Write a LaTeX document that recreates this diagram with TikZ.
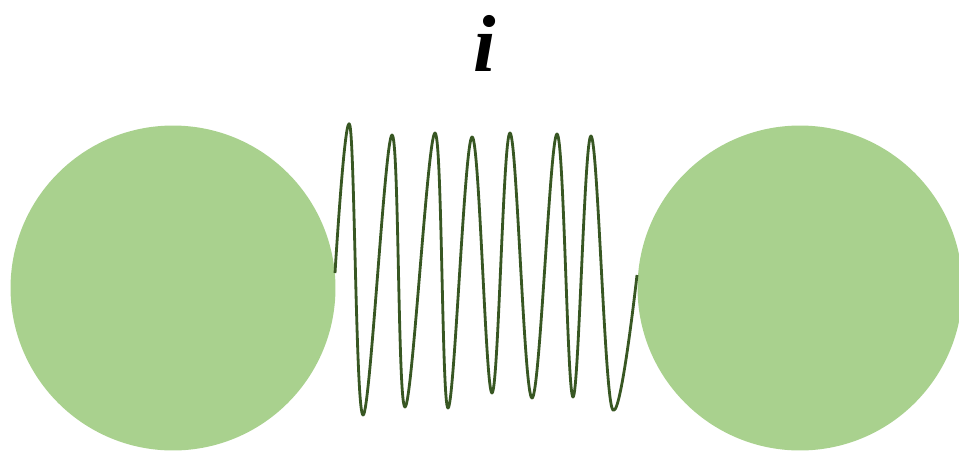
\documentclass[tikz,border=0pt]{standalone}
\usepackage{fontspec}
\setmainfont{Liberation Serif}
\usepackage{tikz}
\usetikzlibrary{positioning}
\definecolor{BallGreen}{HTML}{A9D18E}
\definecolor{SpringGreen}{HTML}{385723}

\begin{document}
\begin{tikzpicture}[x=0.02cm,y=-0.02cm]
    \tikzstyle{ball}=[circle,fill=BallGreen,inner sep=0pt,minimum size=6.5cm]
    \tikzstyle{spring}=[color=SpringGreen,line width=1.6pt,line join=round]
    \useasboundingbox (0,0) rectangle (959,450);
    \node[ball] (lball) at (173,288) {};
    \node[ball] (rball) at (800,288) {};
    \node[font=\fontsize{46}{50}\selectfont\bfseries\itshape] (lbl) at (485,43) {i};
    \coordinate (sa) at (335,273);
    \coordinate (sb) at (637,275);
    % spring between the two balls
    \draw[spring] (sa) plot[smooth,tension=0.6] coordinates {(335,273) (350,126)
      (363,415) (392,135) (405,407) (435,133) (448,408) (472,137) (492,393)
      (510,133) (532,398) (557,134) (573,397) (591,136) (612,408) (637,275)};
  \end{tikzpicture}
\end{document}
